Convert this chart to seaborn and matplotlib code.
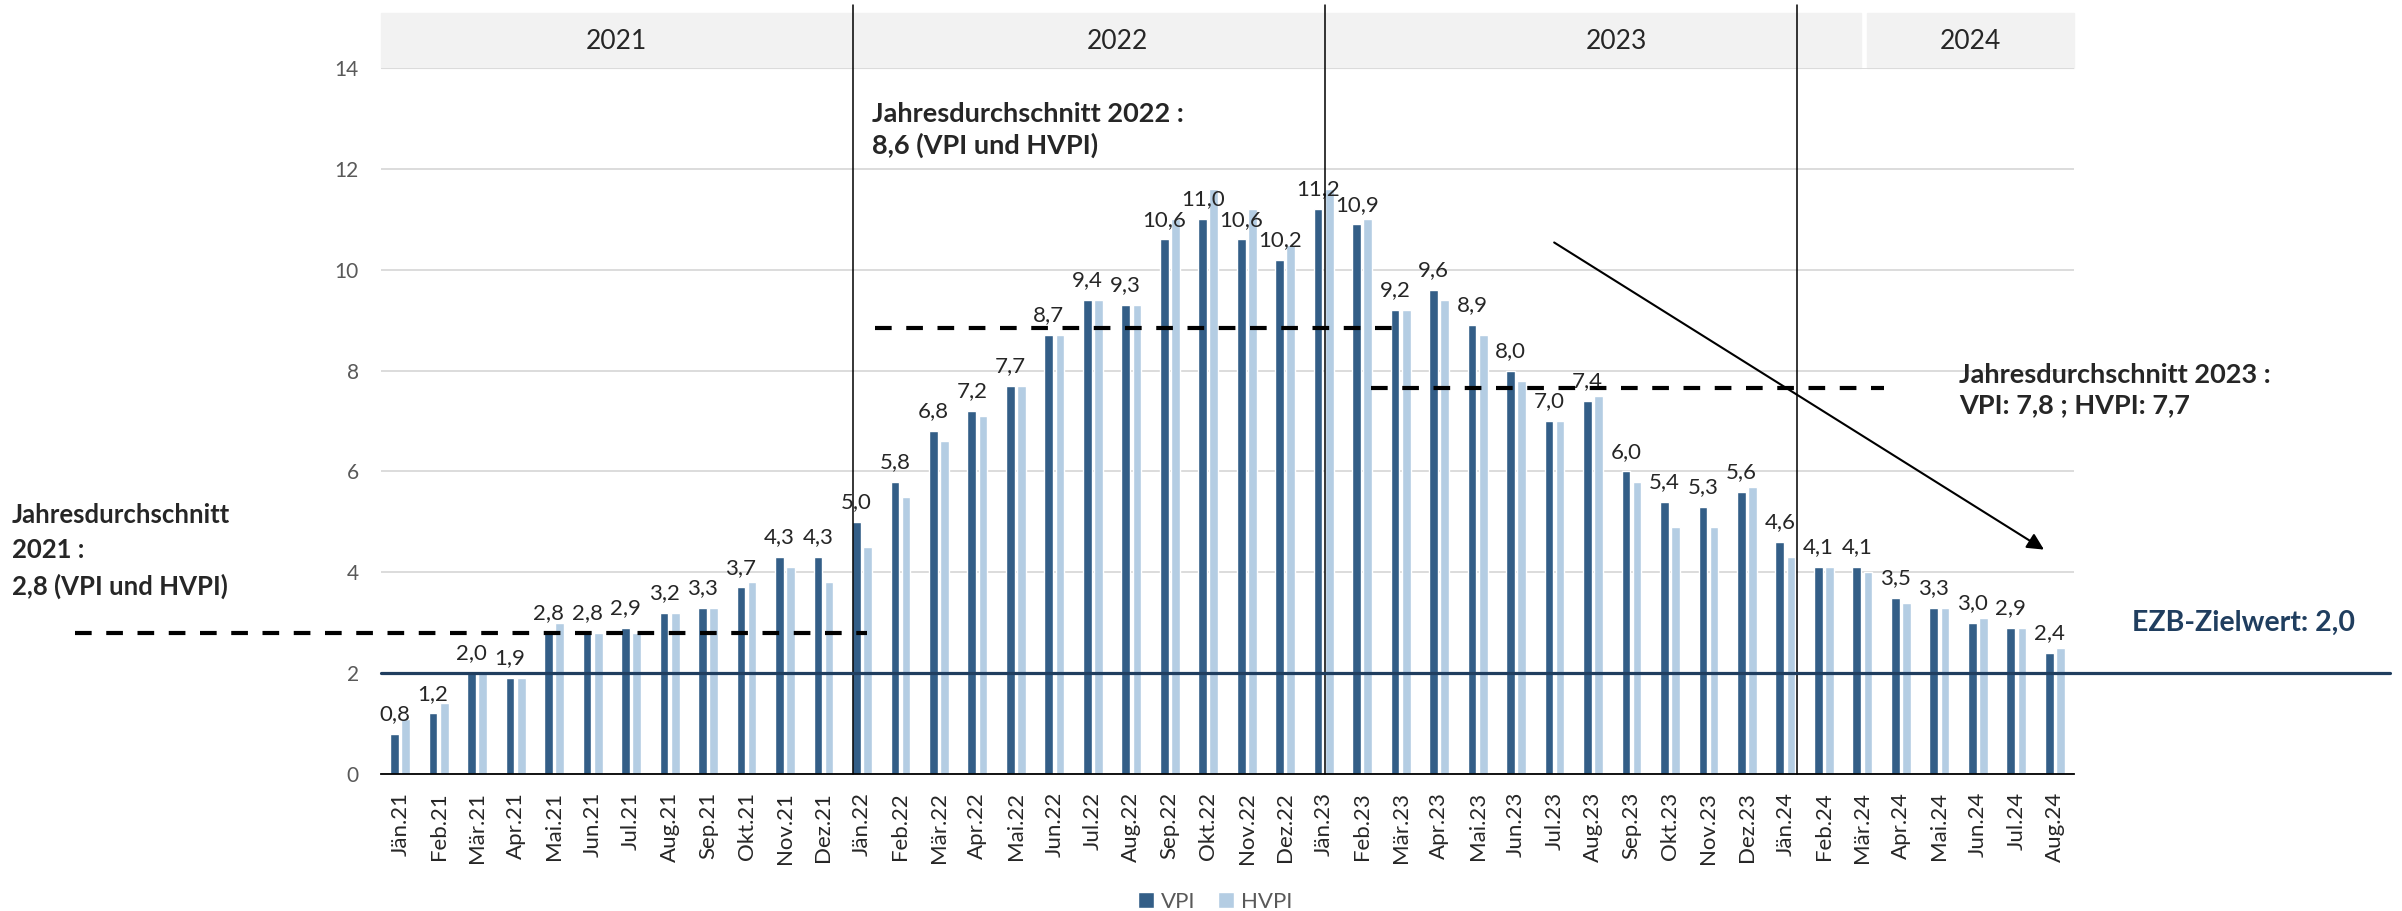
import matplotlib
matplotlib.use("Agg")
import matplotlib.pyplot as plt
import seaborn as sns
import pandas as pd
from matplotlib.patches import Rectangle
from matplotlib.transforms import blended_transform_factory

# Daten: Inflationsraten VPI / HVPI in % (Jän.21 - Aug.24)
months = ["Jän.21", "Feb.21", "Mär.21", "Apr.21", "Mai.21", "Jun.21", "Jul.21", "Aug.21",
          "Sep.21", "Okt.21", "Nov.21", "Dez.21",
          "Jän.22", "Feb.22", "Mär.22", "Apr.22", "Mai.22", "Jun.22", "Jul.22", "Aug.22",
          "Sep.22", "Okt.22", "Nov.22", "Dez.22",
          "Jän.23", "Feb.23", "Mär.23", "Apr.23", "Mai.23", "Jun.23", "Jul.23", "Aug.23",
          "Sep.23", "Okt.23", "Nov.23", "Dez.23",
          "Jän.24", "Feb.24", "Mär.24", "Apr.24", "Mai.24", "Jun.24", "Jul.24", "Aug.24"]
vpi = [0.8, 1.2, 2.0, 1.9, 2.8, 2.8, 2.9, 3.2, 3.3, 3.7, 4.3, 4.3,
       5.0, 5.8, 6.8, 7.2, 7.7, 8.7, 9.4, 9.3, 10.6, 11.0, 10.6, 10.2,
       11.2, 10.9, 9.2, 9.6, 8.9, 8.0, 7.0, 7.4, 6.0, 5.4, 5.3, 5.6,
       4.6, 4.1, 4.1, 3.5, 3.3, 3.0, 2.9, 2.4]
hvpi = [1.1, 1.4, 2.0, 1.9, 3.0, 2.8, 2.8, 3.2, 3.3, 3.8, 4.1, 3.8,
        4.5, 5.5, 6.6, 7.1, 7.7, 8.7, 9.4, 9.3, 11.0, 11.6, 11.2, 10.5,
        11.6, 11.0, 9.2, 9.4, 8.7, 7.8, 7.0, 7.5, 5.8, 4.9, 4.9, 5.7,
        4.3, 4.1, 4.0, 3.4, 3.3, 3.1, 2.9, 2.5]

years = ["2021", "2022", "2023", "2024"]
year_label_x = [5.61, 18.65, 31.6, 40.8]
year_start = [12, 24, 36]
sep_offset = [-0.24, 0.04, 0.31]

ezb_target = 2.0
avg_levels = [2.8, 8.85, 7.65]
avg_spans = [(-8.45, 12.13), (12.34, 25.93), (25.23, 38.56)]

df = pd.DataFrame({
    "Monat": months * 2,
    "Wert": vpi + hvpi,
    "Index": ["VPI"] * len(vpi) + ["HVPI"] * len(hvpi),
})

sns.set_style("white")
plt.rcParams["font.family"] = ["Lato", "DejaVu Sans"]

W, H = 2402, 911
fig = plt.figure(figsize=(W / 100, H / 100), dpi=100)
ax = fig.add_axes([381 / W, 1 - 774 / H, 1693 / W, 706 / H])

dark = "#335E87"
light = "#B4CDE3"
navy = "#203E5F"

sns.barplot(data=df, x="Monat", y="Wert", hue="Index", palette=[dark, light],
            width=0.58, gap=0.22, saturation=1, ax=ax)

ax.set_xlim(-0.5, len(months) - 0.5)
ax.set_ylim(0, 14)
ax.set_yticks(range(0, 15, 2))
ax.set_xlabel("")
ax.set_ylabel("")
ax.yaxis.grid(True, color="#D9D9D9", lw=1.3)
ax.set_axisbelow(True)
for s in ["top", "right", "left"]:
    ax.spines[s].set_visible(False)
ax.spines["bottom"].set_color("black")
ax.spines["bottom"].set_linewidth(1.3)

ax.tick_params(axis="y", length=0, pad=16, labelsize=15, labelcolor="#595959")
ax.tick_params(axis="x", which="major", length=0, pad=13, labelsize=16, rotation=90)
ax.set_xticks([i + 0.5 for i in range(-1, len(months))], minor=True)
ax.tick_params(axis="x", which="minor", length=6, width=1.3, color="black")

# Werte über den VPI-Balken
ax.bar_label(ax.containers[0], labels=[f"{v:.1f}".replace(".", ",") for v in vpi],
             padding=7, fontsize=16)

# Kopfzeile mit Jahren
tr = blended_transform_factory(ax.transData, ax.transAxes)
ax.add_patch(Rectangle((-0.5, 1.0), 38.46, 0.078, transform=tr, color="#F2F2F2",
                       clip_on=False, zorder=0))
ax.add_patch(Rectangle((38.12, 1.0), 5.38, 0.078, transform=tr, color="#F2F2F2",
                       clip_on=False, zorder=0))
for y, x in zip(years, year_label_x):
    ax.text(x, 1.038, y, transform=tr, ha="center", va="center", fontsize=19)
for i, off in zip(year_start, sep_offset):
    ax.plot([i + off, i + off], [0, 1.089], transform=tr, color="black", lw=1.1,
            clip_on=False, zorder=3)

# EZB-Zielwert
ax.plot([-0.5, 51.7], [ezb_target, ezb_target], color=navy, lw=2.3, clip_on=False, zorder=4)

# Jahresdurchschnitte
for lvl, (x0, x1) in zip(avg_levels, avg_spans):
    ax.plot([x0, x1], [lvl, lvl], color="black", lw=3, dashes=(4, 3.5), clip_on=False, zorder=4)

# Pfeil
ax.annotate("", xy=(42.72, 4.45), xytext=(29.99, 10.54),
            arrowprops=dict(arrowstyle="-|>", color="black", lw=1.5, mutation_scale=25,
                            shrinkA=0, shrinkB=0))

fig.text(12 / W, 1 - 503 / H, "Jahresdurchschnitt\n2021 :\n2,8 (VPI und HVPI)",
         ha="left", va="top", fontsize=18.5, fontweight="bold", linespacing=1.55)
fig.text(872 / W, 1 - 102 / H, "Jahresdurchschnitt 2022 :\n8,6 (VPI und HVPI)",
         ha="left", va="top", fontsize=19.5, fontweight="bold", linespacing=1.3)
fig.text(1959 / W, 1 - 363 / H, "Jahresdurchschnitt 2023 :\nVPI: 7,8 ; HVPI: 7,7",
         ha="left", va="top", fontsize=19.5, fontweight="bold", linespacing=1.3)
fig.text(2132 / W, 1 - 623 / H, "EZB-Zielwert: 2,0", ha="left", va="center",
         fontsize=20.5, fontweight="bold", color=navy)

sns.move_legend(ax, "center", bbox_to_anchor=(0.4926, -0.181), ncol=2, title=None,
                frameon=False, fontsize=16, handlelength=0.75, handleheight=0.75,
                handletextpad=0.3, columnspacing=1.0, labelcolor="#595959")

fig.savefig("out.png", dpi=100)
